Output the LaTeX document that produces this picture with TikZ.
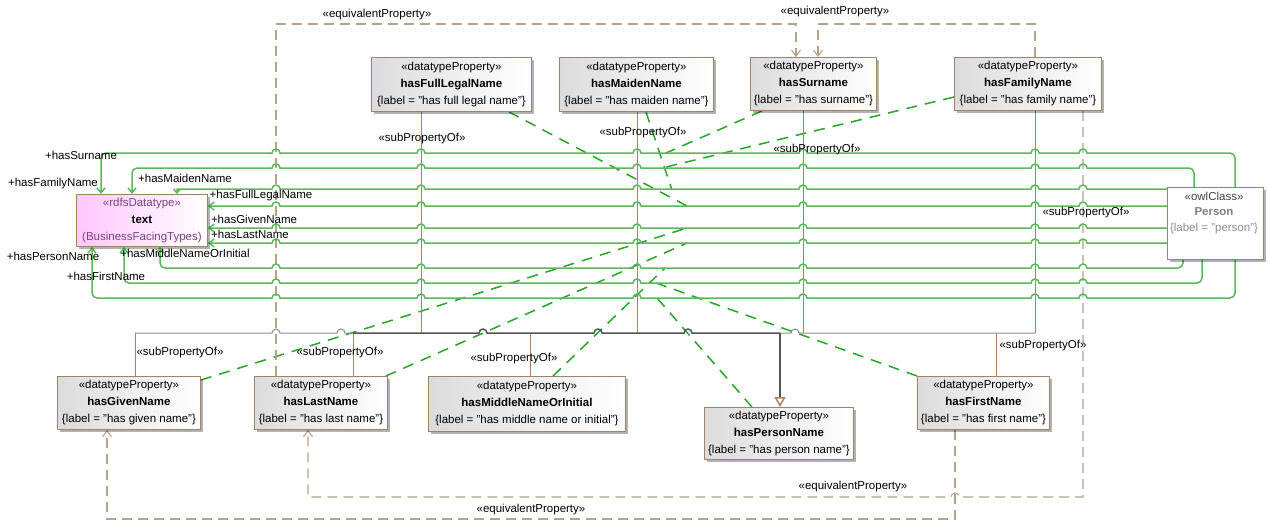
\documentclass[tikz,border=0pt]{standalone}
\usepackage{fontspec}
\setmainfont{Liberation Sans}
\usetikzlibrary{arrows.meta,shadows}
\definecolor{boxbrown}{RGB}{160,130,105}
\definecolor{assocgreen}{RGB}{90,184,90}
\definecolor{dashgreen}{RGB}{40,165,40}
\definecolor{eqbrown}{RGB}{185,160,136}
\definecolor{genbrown}{RGB}{168,130,100}
\definecolor{busgray}{RGB}{85,85,85}
\definecolor{buslight}{RGB}{140,140,140}
\definecolor{stpurple}{RGB}{125,65,135}
\pgfdeclarelayer{bg}
\pgfsetlayers{bg,main}
\begin{document}
\begin{tikzpicture}[x=1pt,y=-1pt,
  every node/.style={font=\fontsize{11.5}{13}\selectfont, inner sep=0pt},
  boxbase/.style={draw=boxbrown, line width=0.9pt, anchor=north west, align=center,
    font=\fontsize{11.5}{17}\selectfont,
    drop shadow={shadow xshift=2.5pt,shadow yshift=-2.5pt,opacity=0.3,fill=black}},
  prop/.style={boxbase, left color=black!14, right color=white},
  assoc/.style={draw=assocgreen, line width=1.5pt, -{Straight Barb[length=5pt,width=8pt]}},
  eq/.style={draw=eqbrown, line width=1.1pt, dash pattern=on 10pt off 6pt, -{Straight Barb[length=6pt,width=9pt]}},
  gen/.style={draw=genbrown, line width=1pt},
  bus/.style={draw=busgray, line width=1.5pt},
  buslt/.style={draw=buslight, line width=1pt},
  gd/.style={draw=dashgreen, line width=1.5pt, dash pattern=on 11pt off 8pt}
]
\useasboundingbox (0,0) rectangle (1268,523);

% ---------- boxes ----------
\node[prop, minimum width=160pt, minimum height=54pt] (fl) at (371,57)
  {«datatypeProperty»\\\textbf{hasFullLegalName}\\\{label = "has full legal name"\}};
\node[prop, minimum width=154pt, minimum height=54pt] (mn) at (559,57)
  {«datatypeProperty»\\\textbf{hasMaidenName}\\\{label = "has maiden name"\}};
\node[prop, minimum width=126pt, minimum height=53pt] (sn) at (750,57)
  {«datatypeProperty»\\\textbf{hasSurname}\\\{label = "has surname"\}};
\node[prop, minimum width=147pt, minimum height=53pt] (fn) at (954,57)
  {«datatypeProperty»\\\textbf{hasFamilyName}\\\{label = "has family name"\}};
\node[boxbase, left color=magenta!22, right color=white, minimum width=131pt, minimum height=52pt] (txt) at (76,194)
  {\textcolor{stpurple}{«rdfsDatatype»}\\\textbf{text}\\\textcolor{stpurple}{(BusinessFacingTypes)}};
\node[boxbase, fill=white, minimum width=96pt, minimum height=72pt] (person) at (1167,187) {};
\node[align=center, font=\fontsize{11.5}{15.5}\selectfont] (ptext) at (1214,213)
  {\textcolor{black!75}{«owlClass»}\\\textcolor{black!50}{\textbf{Person}}\\\textcolor{black!45}{\{label = "person"\}}};
\node[prop, minimum width=143pt, minimum height=53pt] (gn) at (57,376)
  {«datatypeProperty»\\\textbf{hasGivenName}\\\{label = "has given name"\}};
\node[prop, minimum width=133pt, minimum height=53pt] (ln) at (254,376)
  {«datatypeProperty»\\\textbf{hasLastName}\\\{label = "has last name"\}};
\node[prop, minimum width=197pt, minimum height=55pt] (mi) at (428,376)
  {«datatypeProperty»\\\textbf{hasMiddleNameOrInitial}\\\{label = "has middle name or initial"\}};
\node[prop, minimum width=149pt, minimum height=52pt] (pn) at (704,407)
  {«datatypeProperty»\\\textbf{hasPersonName}\\\{label = "has person name"\}};
\node[prop, minimum width=132pt, minimum height=53pt] (fi) at (917,376)
  {«datatypeProperty»\\\textbf{hasFirstName}\\\{label = "has first name"\}};

% ---------- association end labels ----------
\node (lSur) at (81,155) {+hasSurname};
\node (lFam) at (53,184) {+hasFamilyName};
\node (lMai) at (185,178) {+hasMaidenName};
\node (lFul) at (261,196) {+hasFullLegalName};
\node (lGiv) at (254,219) {+hasGivenName};
\node (lLas) at (250,234) {+hasLastName};
\node (lMid) at (185,253) {+hasMiddleNameOrInitial};
\node (lPer) at (53,256) {+hasPersonName};
\node (lFir) at (106,276) {+hasFirstName};

% ---------- stereotype labels ----------
\node (s1) at (422,139) {«subPropertyOf»};
\node (s2) at (643,133) {«subPropertyOf»};
\node (s3) at (817,150) {«subPropertyOf»};
\node (s4) at (1086,213) {«subPropertyOf»};
\node (s5) at (180,353) {«subPropertyOf»};
\node (s6) at (340,353) {«subPropertyOf»};
\node (s7) at (514,359) {«subPropertyOf»};
\node (s8) at (1043,346) {«subPropertyOf»};
\node (e1) at (377,15) {«equivalentProperty»};
\node (e2) at (835,12) {«equivalentProperty»};
\node (e3) at (853,487) {«equivalentProperty»};
\node (e4) at (531,510) {«equivalentProperty»};

% ---------- named points ----------
\coordinate (jn) at (780,333);
\coordinate (mFL) at (687,206);
\coordinate (mMN) at (672,190);
\coordinate (mSN) at (666,153);
\coordinate (mFN) at (662,168);
\coordinate (mGN) at (687,228);
\coordinate (mLN) at (687,243);
\coordinate (mMI) at (665,268);
\coordinate (mPN) at (657,298);
\coordinate (mFI) at (656,283);

\begin{pgfonlayer}{bg}
% green dashed links (property box to its association)
\draw[gd] ([xshift=-23pt]fl.south east) -- (mFL);
\draw[gd] (646,0 |- mn.south) -- (mMN);
\draw[gd] (762,0 |- sn.south) -- (mSN);
\draw[gd] (fn.west |- 0,97) -- (mFN);
\draw[gd] (gn.east |- 0,380) -- (mGN);
\draw[gd] ([xshift=-2pt]ln.north east) -- (mLN);
\draw[gd] (553,0 |- mi.north) -- (mMI);
\draw[gd] (752,0 |- pn.north) -- (mPN);
\draw[gd] (fi.north west) -- (mFI);

% subPropertyOf generalisations
\draw[gen] (421,0 |- fl.south) -- (421,0 |- jn);
\draw[gen] (637,0 |- mn.south) -- (637,0 |- jn);
\draw[gen] (803,0 |- sn.south) -- (803,0 |- jn);
\draw[gen] (1035,0 |- fn.south) -- (1035,0 |- jn);
\draw[gen] (135,0 |- gn.north) -- (135,0 |- jn);
\draw[gen] (353,0 |- ln.north) -- (353,0 |- jn);
\draw[gen] (530,0 |- mi.north) -- (530,0 |- jn);
\draw[gen] (996,0 |- fi.north) -- (996,0 |- jn);
\draw[buslt] (135,0 |- jn) -- (272,333) arc[start angle=180,end angle=0,radius=4pt]
  -- (337,333) arc[start angle=180,end angle=0,radius=4pt] -- (353,0 |- jn);
\draw[bus] (353,0 |- jn) -- (479,333) arc[start angle=180,end angle=0,radius=4pt]
  -- (594,333) arc[start angle=180,end angle=0,radius=4pt]
  -- (684,333) arc[start angle=180,end angle=0,radius=4pt] -- (jn);
\draw[buslt] (1035,0 |- jn) -- (799,333) arc[start angle=0,end angle=180,radius=4pt] -- (jn);
\draw[bus, -{Triangle[open,length=10pt,width=11pt,color=genbrown,fill=white]}] (jn) -- (jn |- pn.north);

% equivalentProperty
\draw[eq] (276,0 |- ln.north) -- (276,24) -- (796,24) -- (796,0 |- sn.north);
\draw[eq] (1035,0 |- fn.north) -- (1035,24) -- (818,24) -- (818,0 |- sn.north);
\draw[eq] (1083,0 |- fn.south) -- (1083,497) -- (959,497) arc[start angle=0,end angle=180,radius=4pt]
  -- (308,497) -- (308,0 |- ln.south);
\draw[eq] (955,0 |- fi.south) -- (955,519) -- (107,519) -- (107,0 |- gn.south);

% associations Person -> text
\draw[assoc] (1235,0 |- person.north) {[rounded corners=5pt] -- (1235,153) -- (1150,153)}
  \foreach \h in {1083,1035,803,637,421,276} { -- (\h+4,153) arc[start angle=0,end angle=180,radius=4pt] }
  -- (200,153) {[rounded corners=5pt] -- (101,153) -- (101,0 |- txt.north)};
\draw[assoc] (1194,0 |- person.north) {[rounded corners=5pt] -- (1194,168) -- (1150,168)}
  \foreach \h in {1083,1035,803,637,421,276} { -- (\h+4,168) arc[start angle=0,end angle=180,radius=4pt] }
  -- (200,168) {[rounded corners=5pt] -- (132,168) -- (132,0 |- txt.north)};
\draw[assoc, -{Straight Barb[length=4pt,width=7pt]}] (person.west |- 0,189)
  \foreach \h in {1083,1035,803,637,421,276} { -- (\h+4,189) arc[start angle=0,end angle=180,radius=4pt] }
  -- (177,189) -- (177,0 |- txt.north);
\draw[assoc] (person.west |- 0,206)
  \foreach \h in {1083,1035,803,637,421,276} { -- (\h+4,206) arc[start angle=0,end angle=180,radius=4pt] }
  -- (txt.east |- 0,206);
\draw[assoc] (person.west |- 0,228)
  \foreach \h in {1083,1035,803,637,421,276} { -- (\h+4,228) arc[start angle=0,end angle=180,radius=4pt] }
  -- (txt.east |- 0,228);
\draw[assoc] (person.west |- 0,243)
  \foreach \h in {1083,1035,803,637,421,276} { -- (\h+4,243) arc[start angle=0,end angle=180,radius=4pt] }
  -- (txt.east |- 0,243);
\draw[assoc] (1183,0 |- person.south) {[rounded corners=5pt] -- (1183,268) -- (1150,268)}
  \foreach \h in {1083,1035,803,637,421,276} { -- (\h+4,268) arc[start angle=0,end angle=180,radius=4pt] }
  -- (200,268) {[rounded corners=5pt] -- (160,268) -- (160,0 |- txt.south)};
\draw[assoc] (1202,0 |- person.south) {[rounded corners=5pt] -- (1202,283) -- (1150,283)}
  \foreach \h in {1083,1035,803,637,421,276} { -- (\h+4,283) arc[start angle=0,end angle=180,radius=4pt] }
  -- (200,283) {[rounded corners=5pt] -- (124,283) -- (124,0 |- txt.south)};
\draw[assoc] (1235,0 |- person.south) {[rounded corners=5pt] -- (1235,298) -- (1150,298)}
  \foreach \h in {1083,1035,803,637,421,276} { -- (\h+4,298) arc[start angle=0,end angle=180,radius=4pt] }
  -- (200,298) {[rounded corners=5pt] -- (92,298) -- (92,0 |- txt.south)};
\end{pgfonlayer}
\end{tikzpicture}
\end{document}
